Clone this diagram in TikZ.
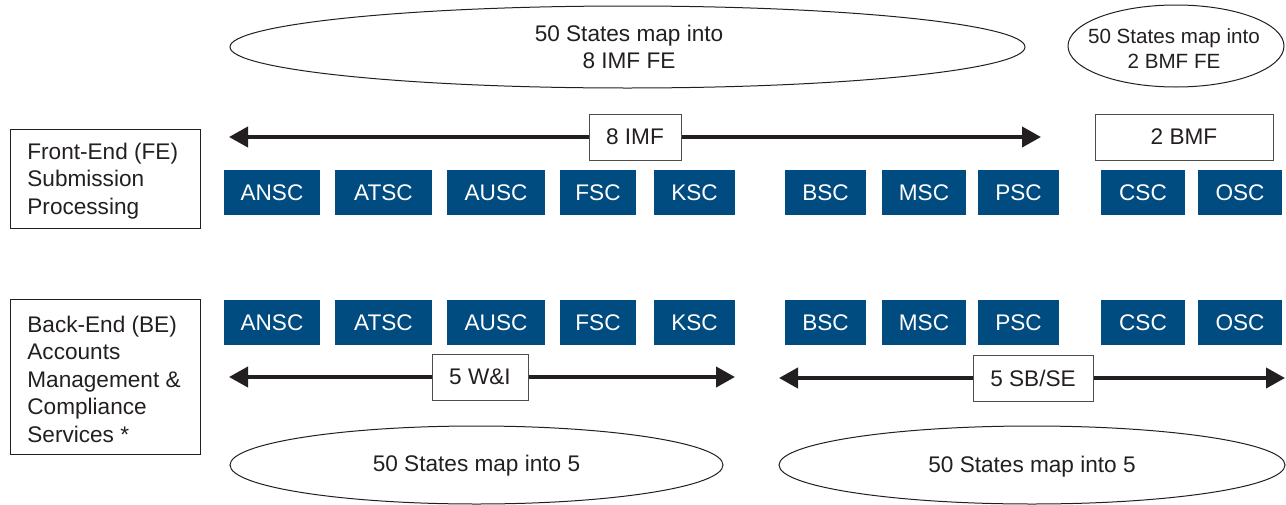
\documentclass[tikz,border=0pt]{standalone}
\usepackage{fontspec}
\setmainfont{Liberation Sans}
\usetikzlibrary{arrows.meta,shapes.geometric}
\definecolor{irsblue}{RGB}{0,75,128}
\definecolor{ink}{RGB}{35,31,32}
\begin{document}
\begin{tikzpicture}[x=0.5pt,y=-0.5pt,
  every node/.style={font=\fontsize{11.3}{13.75}\selectfont, text=ink},
  bluebox/.style={fill=irsblue, text=white, minimum height=22.5pt, inner sep=0pt},
  labelbox/.style={draw=ink, line width=0.5pt, inner sep=0pt, minimum width=95pt},
  labeltext/.style={align=left, inner sep=0pt, anchor=west},
  tagbox/.style={draw=ink!80, line width=0.5pt, fill=white, minimum height=23pt, inner sep=0pt},
  oval/.style={ellipse, draw=ink, line width=0.5pt, inner sep=0pt},
  ovaltext/.style={align=center, inner sep=0pt},
  dblarrow/.style={draw=ink, line width=2pt, {Triangle[length=9.5pt,width=10pt]}-{Triangle[length=9.5pt,width=10pt]}}
]
\useasboundingbox (0,0) rectangle (1286,504);

% top ellipses
\node[oval, minimum width=397.5pt, minimum height=41pt] (ovA) at (627.5,47) {};
\node[ovaltext] (ovAt) at (629,47) {50 States map into\\8 IMF FE};
\node[oval, minimum width=108pt, minimum height=41pt] (ovB) at (1176,46) {};
\node[ovaltext, font=\fontsize{10.3}{12.5}\selectfont] (ovBt) at (1174,49) {50 States map into\\2 BMF FE};

% label boxes
\node[labelbox, minimum height=49.5pt] (feLabel) at (105,178.5) {};
\node[labeltext] (feText) at (27,181) {Front-End (FE)\\Submission\\Processing};
\node[labelbox, minimum height=77.5pt] (beLabel) at (105,376.5) {};
\node[labeltext] (beText) at (27,379) {Back-End (BE)\\Accounts\\Management \&\\Compliance\\Services *};

% FE arrow
\coordinate (feL) at (229,137);
\coordinate (feR) at (1041,137);
\draw[dblarrow] (feL) -- (feR);
\node[tagbox, minimum width=46pt] (imf) at (635,137) {8 IMF};
\node[tagbox, minimum width=89pt] (bmf) at (1184,137) {2 BMF};

% FE blue boxes
\node[bluebox, minimum width=48pt]   (fANSC) at (272,192.5) {ANSC};
\node[bluebox, minimum width=48.5pt] (fATSC) at (383.5,192.5) {ATSC};
\node[bluebox, minimum width=49pt]   (fAUSC) at (496,192.5) {AUSC};
\node[bluebox, minimum width=38pt]   (fFSC) at (598,192.5) {FSC};
\node[bluebox, minimum width=40.5pt] (fKSC) at (694.5,192.5) {KSC};
\node[bluebox, minimum width=40.5pt] (fBSC) at (825.5,192.5) {BSC};
\node[bluebox, minimum width=42pt]   (fMSC) at (924,192.5) {MSC};
\node[bluebox, minimum width=40.5pt] (fPSC) at (1018.5,192.5) {PSC};
\node[bluebox, minimum width=42pt]   (fCSC) at (1143,192.5) {CSC};
\node[bluebox, minimum width=42pt]   (fOSC) at (1240,192.5) {OSC};

% BE blue boxes
\node[bluebox, minimum width=48pt]   (bANSC) at (272,322.5) {ANSC};
\node[bluebox, minimum width=48.5pt] (bATSC) at (383.5,322.5) {ATSC};
\node[bluebox, minimum width=49pt]   (bAUSC) at (496,322.5) {AUSC};
\node[bluebox, minimum width=38pt]   (bFSC) at (598,322.5) {FSC};
\node[bluebox, minimum width=40.5pt] (bKSC) at (694.5,322.5) {KSC};
\node[bluebox, minimum width=40.5pt] (bBSC) at (825.5,322.5) {BSC};
\node[bluebox, minimum width=42pt]   (bMSC) at (924,322.5) {MSC};
\node[bluebox, minimum width=40.5pt] (bPSC) at (1018.5,322.5) {PSC};
\node[bluebox, minimum width=42pt]   (bCSC) at (1143,322.5) {CSC};
\node[bluebox, minimum width=42pt]   (bOSC) at (1240,322.5) {OSC};

% BE arrows
\coordinate (wiL) at (229,377);
\coordinate (wiR) at (735,377);
\draw[dblarrow] (wiL) -- (wiR);
\node[tagbox, minimum width=48pt] (wi) at (480,377) {5 W\&I};
\coordinate (sbL) at (779,378);
\coordinate (sbR) at (1285,378);
\draw[dblarrow] (sbL) -- (sbR);
\node[tagbox, minimum width=60pt] (sb) at (1033,378) {5 SB/SE};

% bottom ellipses
\node[oval, minimum width=246.5pt, minimum height=39pt] (ovC) at (476.5,465) {};
\node[ovaltext] (ovCt) at (476.5,466) {50 States map into 5};
\node[oval, minimum width=253pt, minimum height=39pt] (ovD) at (1032,465) {};
\node[ovaltext] (ovDt) at (1032,467) {50 States map into 5};
\end{tikzpicture}
\end{document}
